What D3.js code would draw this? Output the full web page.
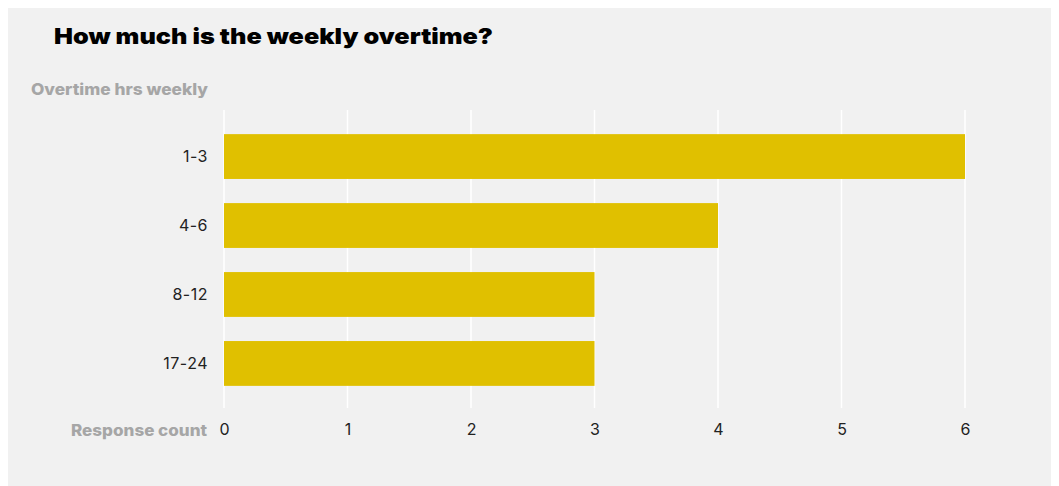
<!DOCTYPE html>
<html>
<head>
<meta charset="utf-8">
<script src="https://cdn.jsdelivr.net/npm/d3@7"></script>
<style>
  html, body { margin: 0; padding: 0; background: #ffffff; }
  svg { display: block; font-family: Inter, "Open Sans", sans-serif; }
</style>
</head>
<body>
<svg id="chart" width="1059" height="486"></svg>
<script>
// Overtime ranges and how many respondents picked each
const categories = ["1-3", "4-6", "8-12", "17-24"];
const counts = [6, 4, 3, 3];
const xTicks = [0, 1, 2, 3, 4, 5, 6];

const svg = d3.select("#chart");

// card background
svg.append("rect")
  .attr("x", 8).attr("y", 8)
  .attr("width", 1043).attr("height", 478)
  .attr("fill", "#f1f1f1");

const x = d3.scaleLinear().domain([0, 6]).range([224, 965]);
const y = d3.scaleBand().domain(categories).range([110, 410])
  .paddingInner(0.35).paddingOuter(0.35);

// vertical gridlines
svg.append("g")
  .selectAll("line")
  .data(xTicks)
  .join("line")
  .attr("x1", d => x(d)).attr("x2", d => x(d))
  .attr("y1", 110).attr("y2", 408)
  .attr("stroke", "#ffffff")
  .attr("stroke-width", 1.5);

// bars
svg.append("g")
  .selectAll("rect")
  .data(categories)
  .join("rect")
  .attr("x", x(0))
  .attr("y", d => y(d))
  .attr("width", (d, i) => x(counts[i]) - x(0))
  .attr("height", y.bandwidth())
  .attr("fill", "#e0c000");

// category axis
const yAxis = svg.append("g")
  .attr("transform", "translate(208,0)")
  .call(d3.axisLeft(y).tickSize(0).tickPadding(0));
yAxis.select(".domain").remove();
yAxis.selectAll("text")
  .attr("font-size", 16)
  .attr("fill", "#222222")
  .attr("letter-spacing", 0.5)
  .style("font-family", "Inter, sans-serif");

// value axis
const xAxis = svg.append("g")
  .attr("transform", "translate(0,424)")
  .call(d3.axisBottom(x).tickValues(xTicks).tickFormat(d3.format("d")).tickSize(0).tickPadding(0));
xAxis.select(".domain").remove();
xAxis.selectAll("text")
  .attr("font-size", 16)
  .attr("fill", "#222222")
  .style("font-family", "Inter, sans-serif");

// title
svg.append("text")
  .attr("x", 54).attr("y", 44)
  .attr("font-size", 22)
  .attr("font-weight", 900)
  .attr("fill", "#000000")
  .attr("textLength", 439)
  .attr("lengthAdjust", "spacingAndGlyphs")
  .text("How much is the weekly overtime?");

// axis titles
svg.append("text")
  .attr("x", 31).attr("y", 95)
  .attr("font-size", 16)
  .attr("font-weight", 800)
  .attr("fill", "#a6a6a6")
  .attr("textLength", 177)
  .attr("lengthAdjust", "spacingAndGlyphs")
  .text("Overtime hrs weekly");

svg.append("text")
  .attr("x", 71).attr("y", 436)
  .attr("font-size", 16)
  .attr("font-weight", 800)
  .attr("fill", "#a6a6a6")
  .attr("textLength", 136)
  .attr("lengthAdjust", "spacingAndGlyphs")
  .text("Response count");
</script>
</body>
</html>
